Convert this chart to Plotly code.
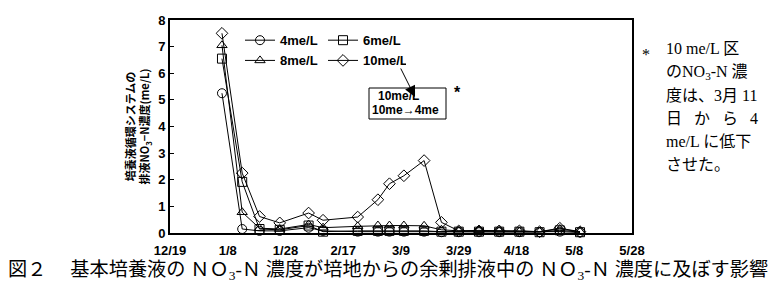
import plotly.graph_objects as go

dates = ["2003-01-06", "2003-01-13", "2003-01-19", "2003-01-26", "2003-02-05", "2003-02-10",
         "2003-02-22", "2003-03-01", "2003-03-05", "2003-03-10", "2003-03-17", "2003-03-23",
         "2003-03-29", "2003-04-05", "2003-04-12", "2003-04-19", "2003-04-26", "2003-05-03",
         "2003-05-10"]
s4 = [5.25, 0.15, 0.08, 0.08, 0.20, 0.08, 0.05, 0.05, 0.05, 0.05, 0.05, 0.03, 0.03, 0.03, 0.03, 0.03, 0.03, 0.05, 0.02]
s6 = [6.55, 1.92, 0.15, 0.12, 0.28, 0.05, 0.08, 0.08, 0.08, 0.08, 0.08, 0.05, 0.05, 0.05, 0.05, 0.05, 0.03, 0.10, 0.03]
s8 = [7.05, 0.78, 0.18, 0.15, 0.32, 0.20, 0.25, 0.28, 0.28, 0.28, 0.27, 0.12, 0.08, 0.10, 0.08, 0.05, 0.05, 0.15, 0.05]
s10 = [7.50, 2.25, 0.62, 0.38, 0.75, 0.48, 0.60, 1.25, 1.85, 2.15, 2.72, 0.40, 0.08, 0.08, 0.08, 0.08, 0.05, 0.18, 0.05]

tick_dates = ["2002-12-19", "2003-01-08", "2003-01-28", "2003-02-17", "2003-03-09",
              "2003-03-29", "2003-04-18", "2003-05-08", "2003-05-28"]
tick_labels = ["12/19", "1/8", "1/28", "2/17", "3/9", "3/29", "4/18", "5/8", "5/28"]

NARROW = "Liberation Sans Narrow, Arial Narrow, Liberation Sans, sans-serif"
SERIF = "Liberation Serif, DejaVu Serif, Noto Sans CJK JP, serif"
CJK = "Noto Sans CJK JP, sans-serif"

series = [("4me/L", s4, "circle-open", "legend"),
          ("6me/L", s6, "square-open", "legend"),
          ("8me/L", s8, "triangle-up-open", "legend2"),
          ("10me/L", s10, "diamond-open", "legend2")]

fig = go.Figure()
for name, vals, sym, lg in series:
    fig.add_trace(go.Scatter(
        x=dates, y=vals, name=name, mode="lines+markers",
        line=dict(color="black", width=1),
        marker=dict(symbol=sym, size=9, color="black", line=dict(width=1, color="black")),
        cliponaxis=False, legend=lg))

legend_common = dict(orientation="h", xref="paper", yref="paper", xanchor="left", yanchor="middle",
                     bgcolor="rgba(0,0,0,0)", entrywidth=38, entrywidthmode="pixels",
                     itemwidth=30, tracegroupgap=0,
                     font=dict(family=NARROW, size=13, color="black", weight="bold"))

fig.update_layout(
    width=783, height=290,
    margin=dict(l=170, r=151, t=20, b=57),
    paper_bgcolor="white", plot_bgcolor="white",
    showlegend=True,
    legend=dict(x=(240 - 170) / 462, y=0.905, **legend_common),
    legend2=dict(x=(240 - 170) / 462, y=0.81, **legend_common),
    xaxis=dict(type="date", range=["2002-12-19", "2003-05-28"],
               tickvals=tick_dates, ticktext=tick_labels, ticklabelstandoff=4,
               showgrid=False, zeroline=False, showline=True, linecolor="black", linewidth=2,
               mirror=True, ticks="", tickfont=dict(family=NARROW, size=13, color="black", weight="bold")),
    yaxis=dict(range=[0, 8], dtick=1, showgrid=False, zeroline=False, showline=True,
               linecolor="black", linewidth=2, mirror=True, ticks="inside", ticklen=4,
               tickcolor="black",
               tickfont=dict(family=NARROW, size=13, color="black", weight="bold"),
               title=dict(text="培養液循環システムの<br>排液NO<sub>3</sub>−N濃度(me/L)",
                          font=dict(family=CJK, size=11, color="black", weight="bold"),
                          standoff=6)),
)

# annotation box in the plot
fig.add_shape(type="rect", xref="paper", yref="paper",
              x0=(369 - 170) / 462, x1=(446 - 170) / 462,
              y0=(233 - 119) / 213, y1=(233 - 88) / 213,
              line=dict(color="black", width=1), fillcolor="white")
fig.add_annotation(xref="paper", yref="paper", x=(376 - 170) / 462, y=(233 - 96) / 213,
                   text="10me/L", showarrow=False, xanchor="left", yanchor="middle",
                   font=dict(family=NARROW, size=12, color="black", weight="bold"))
fig.add_annotation(xref="paper", yref="paper", x=(370 - 170) / 462, y=(233 - 110) / 213,
                   text="10me→4me", showarrow=False, xanchor="left", yanchor="middle",
                   font=dict(family=NARROW, size=12, color="black", weight="bold"))
fig.add_annotation(xref="paper", yref="paper", x=(415 - 170) / 462, y=(233 - 97) / 213,
                   ax=-15, ay=-30, text="", showarrow=True, arrowhead=2, arrowsize=2.2,
                   arrowwidth=1, arrowcolor="black")
fig.add_annotation(xref="paper", yref="paper", x=(457 - 170) / 462, y=(233 - 93) / 213,
                   text="*", showarrow=False, font=dict(family=NARROW, size=16, color="black", weight="bold"))

# right-hand note
note_lines = ["10 me/L 区", "のNO<sub>3</sub>-N 濃", "度は、3月 11",
              "日\u2002 か\u2002 ら\u2002 4", "me/L に低下", "させた。"]
fig.add_annotation(xref="paper", yref="paper", x=(652 - 170) / 462, y=(233 - 44) / 213,
                   text="*", showarrow=False, font=dict(family=SERIF, size=16, color="black"))
for i, t in enumerate(note_lines):
    fig.add_annotation(xref="paper", yref="paper", x=(664 - 170) / 462, y=(233 - (49 + 23 * i)) / 213,
                       text=t, showarrow=False, xanchor="left", yanchor="middle",
                       font=dict(family=SERIF, size=16, color="black"))

# caption
fig.add_annotation(xref="paper", yref="paper", x=(6 - 170) / 462, y=(233 - 271) / 213,
                   text="図２　 基本培養液の ＮＯ<sub>3</sub>-Ｎ 濃度が培地からの余剰排液中の ＮＯ<sub>3</sub>-Ｎ 濃度に及ぼす影響",
                   showarrow=False, xanchor="left", yanchor="middle",
                   font=dict(family=SERIF, size=19.2, color="black"))

fig.write_html("out.html")
